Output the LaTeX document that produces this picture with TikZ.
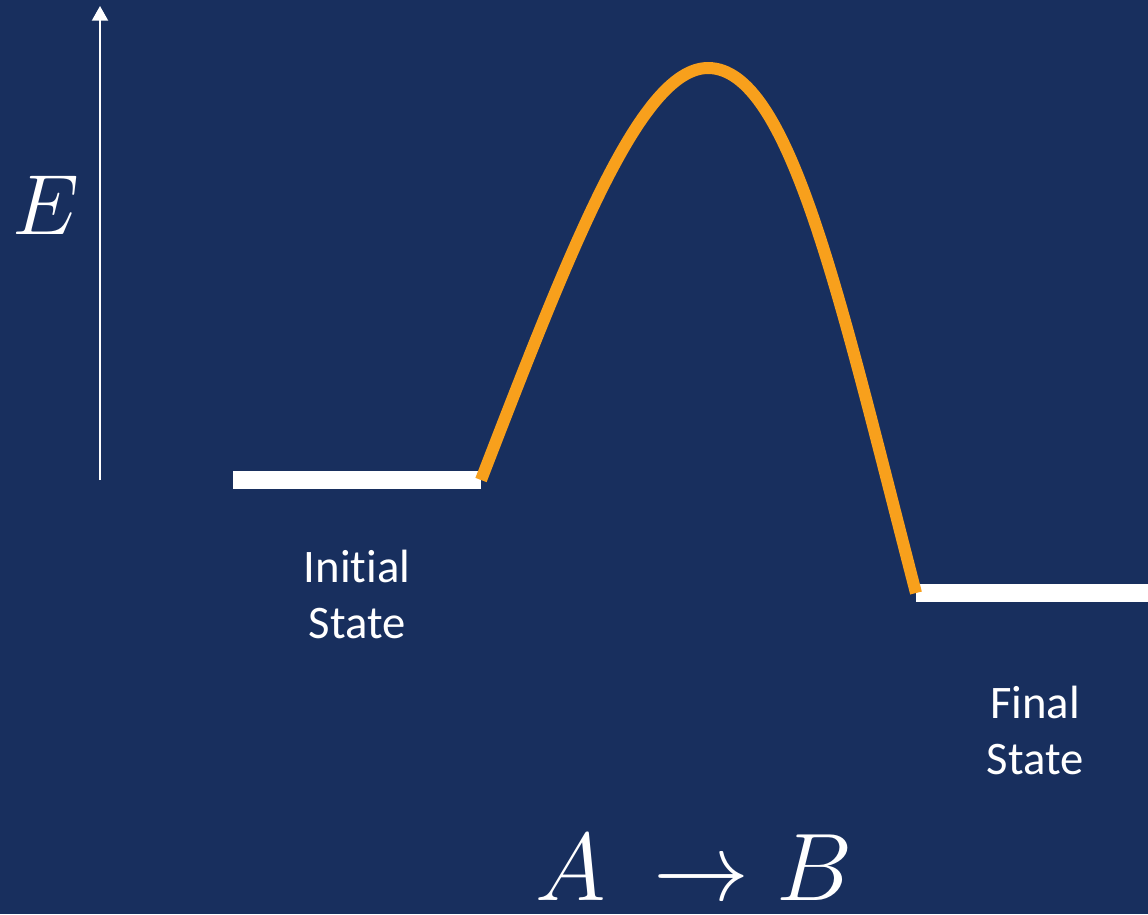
\documentclass[tikz,border=0pt]{standalone}
\usepackage{fix-cm}
\usepackage{amsmath}
\usepackage{fontspec}
\setmainfont{Carlito}[Ligatures=NoCommon]
\usepackage{tikz}
\usepackage{xcolor}
\usetikzlibrary{
    positioning,
    calc,
    arrows.meta
}
\definecolor{AzulFundo}{HTML}{182F5E}
\definecolor{LaranjaCurva}{HTML}{F8A01C}

\tikzset{
    nivel/.style={draw=white, line width=13.5pt},
    rotulo/.style={text=white, align=center, font=\fontsize{35}{42}\selectfont}
}

\begin{document}
\begin{tikzpicture}[x=0.75pt,y=-0.75pt]
    % fundo
    \fill[AzulFundo] (0,0) rectangle (1148,914);
    \useasboundingbox (0,0) rectangle (1148,914);

    % eixo de energia
    \coordinate (eixoBase) at (100,480);
    \coordinate (eixoTopo) at (100,6);
    \draw[white, line width=1.5pt, -{Triangle[width=12pt,length=11pt]}] (eixoBase) -- (eixoTopo);
    \node[text=white, font=\fontsize{64}{64}\selectfont] (energia) at (46,205) {$E$};

    % niveis inicial e final
    \coordinate (inicioEsq) at (233,480);
    \coordinate (inicioDir) at (481,480);
    \coordinate (finalEsq) at (916,593);
    \coordinate (finalDir) at (1148,593);
    \draw[nivel] (inicioEsq) -- (inicioDir);
    \draw[nivel] (finalEsq) -- (finalDir);

    % barreira
    \coordinate (pico) at (708,68);
    \draw[LaranjaCurva, line width=9pt]
        (inicioDir) .. controls (570,250) and (640,68) .. (pico)
        .. controls (790,68) and (840,300) .. (finalEsq);

    \node[rotulo] (estadoInicial) at (357,594) {Initial\\State};
    \node[rotulo] (estadoFinal) at (1035,730) {Final\\State};

    \node[
        text=white,
        anchor=base,
        inner sep=0pt,
        font=\fontsize{72}{72}\selectfont
    ] (reacao) at (694,900) {$A\ \to B$};
\end{tikzpicture}
\end{document}
